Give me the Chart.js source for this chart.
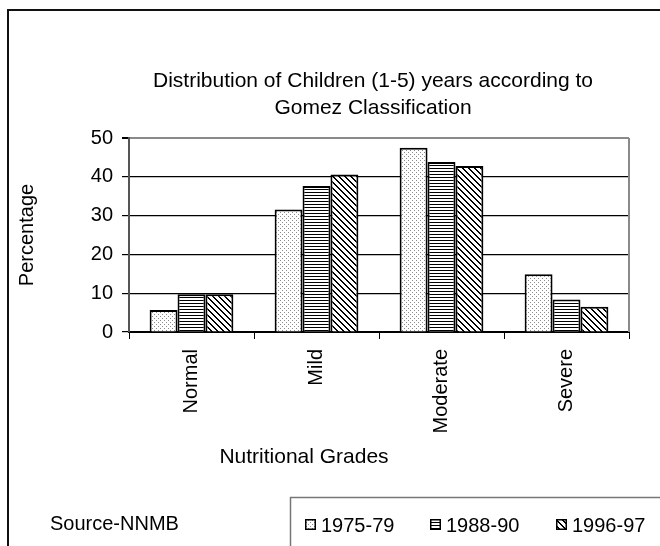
<!DOCTYPE html>
<html>
<head>
<meta charset="utf-8">
<script src="https://cdn.jsdelivr.net/npm/chart.js@4.4.0/dist/chart.umd.min.js"></script>
<style>
    html, body { margin: 0; padding: 0; background: #fff; }
    #contenedor { width: 660px; height: 546px; }
</style>
</head>
<body>
<div id="contenedor"><canvas id="grafico" width="660" height="546"></canvas></div>
<script>
// Datos
const grados = ['Normal', 'Mild', 'Moderate', 'Severe'];
const periodos = ['1975-79', '1988-90', '1996-97'];
const valores7579 = [5.7, 31.6, 47.5, 14.9];
const valores8890 = [9.7, 37.6, 43.8, 8.4];
const valores9697 = [9.7, 40.6, 42.8, 6.5];
const ticksY = [0, 10, 20, 30, 40, 50];

const fuente = "'Liberation Sans', Arial, sans-serif";
const canvas = document.getElementById('grafico');
const ctx = canvas.getContext('2d');

// Patrones de relleno estilo Excel
const crearPatron = (tam, pintar) => {
    const c = document.createElement('canvas');
    c.width = tam;
    c.height = tam;
    const g = c.getContext('2d');
    g.fillStyle = '#fff';
    g.fillRect(0, 0, tam, tam);
    pintar(g, tam);
    return ctx.createPattern(c, 'repeat');
};

const punteado = crearPatron(4, g => {
    g.fillStyle = '#8a8a8a';
    g.fillRect(0, 0, 1, 1);
    g.fillRect(2, 2, 1, 1);
});
const rayado = crearPatron(3, (g, t) => {
    g.fillStyle = '#000';
    g.fillRect(0, 0, t, 1);
});
const diagonal = crearPatron(6, (g, t) => {
    g.fillStyle = '#000';
    for (let i = 0; i < t; i++) {
        g.fillRect(i, i, 1, 1);
        g.fillRect((i + 1) % t, i, 1, 1);
    }
});
const patrones = [punteado, rayado, diagonal];

// Marco, título del eje X, fuente y leyenda
const marco = {
    id: 'marco',
    afterLayout(chart) {
        // el título del original está un poco corrido a la izquierda
        if (chart.titleBlock) chart.titleBlock.left -= 12;
    },
    beforeDatasetsDraw(chart) {
        const { ctx: c, chartArea: a } = chart;
        c.save();
        c.strokeStyle = '#8a8a8a';
        c.lineWidth = 2;
        c.beginPath();
        c.moveTo(a.right, a.top);
        c.lineTo(a.right, a.bottom);
        c.stroke();
        c.restore();
    },
    afterDraw(chart) {
        const c = chart.ctx;
        c.save();
        // borde exterior
        c.strokeStyle = '#111';
        c.lineWidth = 2;
        c.beginPath();
        c.moveTo(8, 560);
        c.lineTo(8, 10);
        c.lineTo(680, 10);
        c.stroke();

        c.fillStyle = '#000';
        c.textBaseline = 'alphabetic';
        c.font = '21px ' + fuente;
        c.textAlign = 'center';
        c.fillText('Nutritional Grades', 304, 463);
        c.textAlign = 'left';
        c.font = '20px ' + fuente;
        c.fillText('Source-NNMB', 50, 530);

        // caja de la leyenda
        c.strokeStyle = '#777';
        c.lineWidth = 1.5;
        c.beginPath();
        c.moveTo(290.5, 560);
        c.lineTo(290.5, 497.5);
        c.lineTo(680, 497.5);
        c.stroke();

        const xs = [305, 430, 556];
        chart.data.datasets.forEach((ds, i) => {
            c.fillStyle = ds.backgroundColor;
            c.fillRect(xs[i], 519, 11, 11);
            c.strokeStyle = '#000';
            c.lineWidth = 1.5;
            c.strokeRect(xs[i] + 0.75, 519.75, 9.5, 9.5);
            c.fillStyle = '#000';
            c.fillText(ds.label, xs[i] + 16, 532);
        });
        c.restore();
    }
};

const series = [valores7579, valores8890, valores9697];

const grafico = new Chart(ctx, {
    type: 'bar',
    data: {
        labels: grados,
        datasets: series.map((datos, i) => ({
            label: periodos[i],
            data: datos,
            backgroundColor: patrones[i],
            borderColor: '#000',
            borderWidth: 2,
            categoryPercentage: 0.67,
            barPercentage: 1
        }))
    },
    options: {
        responsive: false,
        animation: false,
        layout: { padding: { left: 7, right: 31, top: 0, bottom: 0 } },
        plugins: {
            legend: { display: false },
            tooltip: { enabled: false },
            title: {
                display: true,
                fullSize: false,
                text: ['Distribution of Children (1-5) years according to', 'Gomez Classification'],
                color: '#000',
                font: { family: fuente, size: 21, weight: 'normal', lineHeight: 27 / 21 },
                padding: { top: 68, bottom: 16 }
            }
        },
        scales: {
            x: {
                grid: { offset: true, drawOnChartArea: false, drawTicks: true, tickLength: 7, color: '#000' },
                border: { color: '#000', width: 2 },
                ticks: {
                    minRotation: 90,
                    maxRotation: 90,
                    padding: 10,
                    color: '#000',
                    font: { family: fuente, size: 20 }
                },
                afterFit: s => { s.height = 214; }
            },
            y: {
                min: 0,
                max: 50,
                afterBuildTicks: s => { s.ticks = ticksY.map(v => ({ value: v })); },
                grid: {
                    color: c => (c.tick && c.tick.value === 50 ? '#8a8a8a' : '#000'),
                    lineWidth: c => (c.tick && c.tick.value === 50 ? 2 : 1.2),
                    tickColor: '#000',
                    tickLength: 7
                },
                border: { color: '#555', width: 2 },
                ticks: {
                    padding: 9,
                    color: '#000',
                    font: { family: fuente, size: 20 }
                },
                title: {
                    display: true,
                    text: 'Percentage',
                    color: '#000',
                    font: { family: fuente, size: 20 },
                    padding: { top: 8, bottom: 0 }
                },
                afterFit: s => { s.width = 122; }
            }
        }
    },
    plugins: [marco]
});
</script>
</body>
</html>
